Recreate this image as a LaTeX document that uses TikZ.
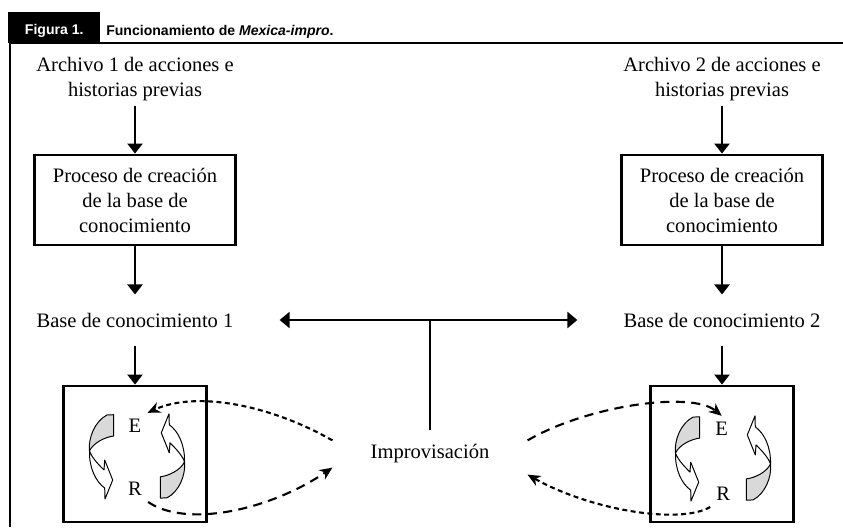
\documentclass[tikz,border=0pt]{standalone}
\usepackage{fontspec}
\setmainfont{Liberation Serif}
\newfontfamily\headfont{Liberation Sans}
\usepackage{tikz}
\usetikzlibrary{positioning, arrows.meta}

\tikzset{
  rimline/.style={line width=2pt},
  headtext/.style={font=\headfont\bfseries\fontsize{10}{12}\selectfont},
  proc/.style={draw, line width=2pt, minimum width=5.025cm, minimum height=2.25cm, inner sep=0pt, align=center},
  kbase/.style={inner xsep=1.15cm, inner ysep=0.45cm},
  erbox/.style={draw, line width=2pt, minimum width=3.575cm, minimum height=3.4cm},
  letter/.style={inner sep=0.15cm},
  flow/.style={line width=1.6pt, -{Triangle[length=0.25cm,width=0.375cm]}},
  bothways/.style={line width=1.6pt, {Triangle[length=0.25cm,width=0.4cm]}-{Triangle[length=0.25cm,width=0.4cm]}},
  shortdash/.style={line width=1.5pt, dash pattern=on 3.5pt off 2.5pt, -{Stealth[length=0.32cm,width=0.28cm]}},
  longdash/.style={line width=1.5pt, dash pattern=on 6.5pt off 4.5pt, -{Stealth[length=0.32cm,width=0.28cm]}},
  ribbonline/.style={line width=0.7pt, line join=round},
  twist/.pic={
    \filldraw[ribbonline, fill=black!15] (-30,-41.4) -- (-23.3,-41.7) -- (-23.3,-20.4)
      .. controls (-32,-19.4) and (-44,-13.4) .. (-47.5,-5.4)
      .. controls (-49,-18.4) and (-42,-35.4) .. (-30,-41.4) -- cycle;
    \filldraw[ribbonline, fill=white] (-47.5,-5.4)
      .. controls (-45,1.6) and (-38,8.6) .. (-33,13.6)
      -- (-32.3,3.6) -- (-24.3,23.6) -- (-32,42.6) -- (-32.3,31.6)
      .. controls (-41,25.6) and (-48,11.6) .. (-47.5,-5.4) -- cycle;
  },
  erpair/.pic={
    \pic {twist};
    \pic[rotate=180] {twist};
  }
}

\begin{document}
\begin{tikzpicture}[x=0.025cm, y=-0.025cm, font=\fontsize{14.6}{17.8}\selectfont]
\useasboundingbox (0,0) rectangle (843,527);

\node[headtext, fill=black, text=white, inner sep=0pt, minimum width=2.3cm, minimum height=0.78cm,
  text height=0.57cm, text depth=0.21cm, anchor=south west] (figlabel) at (8,43.3) {Figura 1.};
\node[headtext, anchor=base west, inner sep=0pt] (title) at (106,35) {Funcionamiento de \textit{Mexica-impro}.};
\draw[rimline] (10,527) -- (10,43) -- (843,43);

\node[align=center] (arch1) at (135,79.4) {Archivo 1 de acciones e\\historias previas};
\node[align=center] (arch2) at (722,79.4) {Archivo 2 de acciones e\\historias previas};
\node[proc] (proc1) at (135,200) {Proceso de creación\\de la base de\\conocimiento};
\node[proc] (proc2) at (722,200) {Proceso de creación\\de la base de\\conocimiento};
\node[kbase] (base1) at (135,320) {Base de conocimiento 1};
\node[kbase] (base2) at (722,320) {Base de conocimiento 2};
\node[erbox] (loop1) at (135,454) {};
\node[erbox] (loop2) at (722,454) {};
\pic at (137,456.4) {erpair};
\pic at (723,458.5) {erpair};
\node[letter] (e1) at (135,425.8) {E};
\node[letter] (r1) at (135,489) {R};
\node[letter] (e2) at (721.7,428.8) {E};
\node[letter] (r2) at (723.3,494) {R};
\node[inner xsep=0.95cm, inner ysep=0.1cm] (improv) at (430,454) {Improvisación};

\draw[flow] (arch1) -- (proc1);
\draw[flow] (arch2) -- (proc2);
\draw[flow] (proc1) -- (base1);
\draw[flow] (proc2) -- (base2);
\draw[flow] (base1) -- (loop1);
\draw[flow] (base2) -- (loop2);
\draw[bothways] (base1) -- (base2);
\draw[line width=1.6pt, shorten <=0.25cm] (improv.north) -- (improv.north |- base1.east);

\draw[shortdash] (improv.north west) .. controls +(-63,-36) and +(48,-22) .. (e1.north east);
\draw[longdash] (r1.south east) .. controls +(38,26) and +(-63,43) .. (improv.south west);
\draw[longdash] (improv.north east) .. controls +(60,-35) and +(-30,-25) .. (e2.north);
\draw[shortdash] (r2.south west) .. controls +(-31,18) and +(62,35) .. ([yshift=-5pt]improv.south east);
\end{tikzpicture}
\end{document}
